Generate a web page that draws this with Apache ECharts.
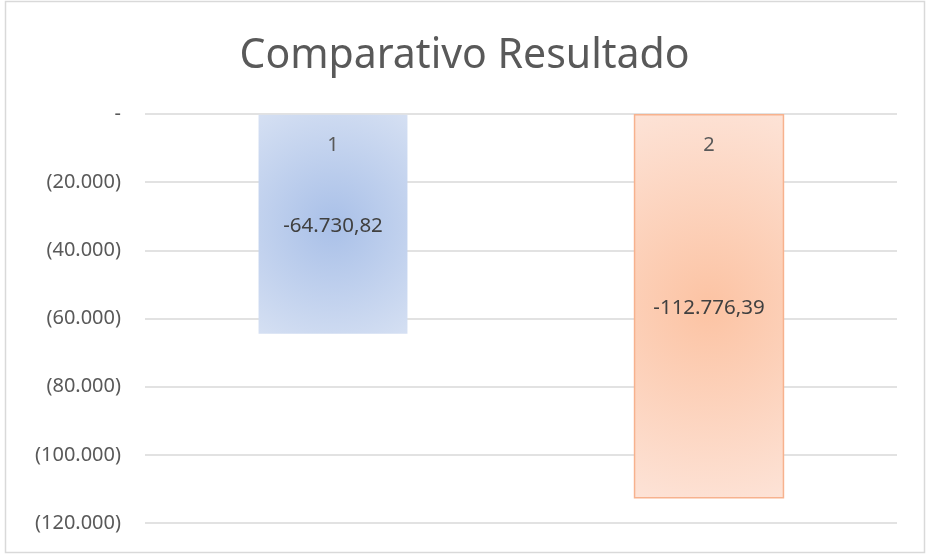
<!DOCTYPE html>
<html>
<head>
<meta charset="utf-8">
<title>Comparativo Resultado</title>
<script src="https://cdn.jsdelivr.net/npm/echarts@6/dist/echarts.min.js"></script>
<style>
  html, body { margin: 0; padding: 0; background: #fff; }
  #chart { width: 929px; height: 560px; }
</style>
</head>
<body>
<div id="chart"></div>
<script>
// data
const categories = ['1', '2'];
const resultValues = [-64730.82, -112776.39];
const yMin = -120000;
const yMax = 0;
const yStep = 20000;

// bar fills (radial, lighter at the edges)
const barStyles = [
  { inner: '#a9c0e8', outer: '#dbe4f4', r: 1.0, border: 'rgba(0,0,0,0)' },
  { inner: '#fcc3a3', outer: '#fde6dc', r: 1.5, border: '#f7b28e' }
];

const FONT = '"Noto Sans", "Open Sans", sans-serif';

// pt-BR style: 20000 -> 20.000, negative ticks in parentheses
function fmtThousands(n) {
  return Math.round(Math.abs(n)).toString().replace(/\B(?=(\d{3})+(?!\d))/g, '.');
}
function fmtTick(v) {
  if (v === 0) return '-';
  return v < 0 ? '(' + fmtThousands(v) + ')' : fmtThousands(v);
}
function fmtValue(v) {
  const parts = Math.abs(v).toFixed(2).split('.');
  const intPart = parts[0].replace(/\B(?=(\d{3})+(?!\d))/g, '.');
  return (v < 0 ? '-' : '') + intPart + ',' + parts[1];
}

const chart = echarts.init(document.getElementById('chart'));

const option = {
  animation: false,
  textStyle: { fontFamily: FONT },
  title: {
    text: 'Comparativo Resultado',
    left: 'center',
    top: 31,
    textStyle: {
      fontSize: 41,
      fontWeight: 'normal',
      color: '#595959',
      fontFamily: FONT
    }
  },
  graphic: [
    {
      type: 'rect',
      shape: { x: 5.5, y: 1.5, width: 919, height: 551 },
      style: { fill: 'none', stroke: '#d9d9d9', lineWidth: 1.5 },
      silent: true
    }
  ],
  grid: {
    left: 145,
    right: 32,
    top: 114,
    bottom: 37
  },
  xAxis: {
    type: 'category',
    data: categories,
    position: 'top',
    z: 10,
    axisLine: { show: false },
    axisTick: { show: false },
    axisLabel: {
      inside: true,
      margin: 21,
      fontSize: 20,
      color: '#595959',
      fontFamily: FONT
    }
  },
  yAxis: {
    type: 'value',
    min: yMin,
    max: yMax,
    interval: yStep,
    axisLine: { show: false },
    axisTick: { show: false },
    axisLabel: {
      margin: 24,
      fontSize: 20,
      color: '#595959',
      fontFamily: FONT,
      formatter: fmtTick
    },
    splitLine: {
      lineStyle: { color: '#d9d9d9', width: 1.5 }
    }
  },
  series: [
    {
      type: 'bar',
      barWidth: '40%',
      data: resultValues.map((v, i) => ({
        value: v,
        itemStyle: {
          color: {
            type: 'radial',
            x: 0.5,
            y: 0.5,
            r: barStyles[i].r,
            colorStops: [
              { offset: 0, color: barStyles[i].inner },
              { offset: 1, color: barStyles[i].outer }
            ]
          },
          borderColor: barStyles[i].border,
          borderWidth: 1.5
        }
      })),
      label: {
        show: true,
        position: 'inside',
        offset: [0, 2],
        fontSize: 20.5,
        color: '#404040',
        fontFamily: FONT,
        formatter: p => fmtValue(p.value)
      }
    }
  ]
};

chart.setOption(option);
</script>
</body>
</html>
